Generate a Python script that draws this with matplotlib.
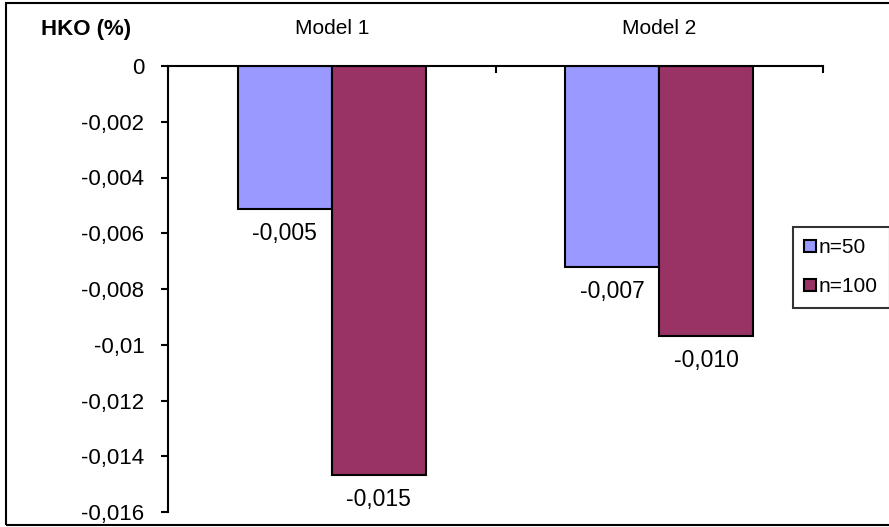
import matplotlib.pyplot as plt
from matplotlib.patches import Rectangle
import numpy as np

plt.rcParams['font.family'] = ['Liberation Sans', 'DejaVu Sans']

# data
models = ['Model 1', 'Model 2']
series = ['n=50', 'n=100']
n50 = [-0.00513, -0.00721]
n100 = [-0.01467, -0.00969]
bar_labels_50 = ['-0,005', '-0,007']
bar_labels_100 = ['-0,015', '-0,010']
yticks = [0, -0.002, -0.004, -0.006, -0.008, -0.01, -0.012, -0.014, -0.016]
ytick_labels = ['0', '-0,002', '-0,004', '-0,006', '-0,008', '-0,01', '-0,012', '-0,014', '-0,016']
colors = ['#9999FF', '#993366']

W, H = 889, 527
fig = plt.figure(figsize=(W/100, H/100), dpi=100)
ax = fig.add_axes([168/W, 1-512/H, (823-168)/W, (512-66)/H])

x = np.arange(len(models))
w = 0.2875
b1 = ax.bar(x - w/2, n50, w, color=colors[0], edgecolor='black', linewidth=1.5, label=series[0])
b2 = ax.bar(x + w/2, n100, w, color=colors[1], edgecolor='black', linewidth=1.5, label=series[1])

for bars, labs in ((b1, bar_labels_50), (b2, bar_labels_100)):
    for b, lab in zip(bars, labs):
        ax.annotate(lab, (b.get_x() + b.get_width()/2, b.get_height()),
                    xytext=(0, -13), textcoords='offset pixels',
                    ha='center', va='top', fontsize=16.5)

ax.set_xlim(-0.5, 1.5)
ax.set_ylim(-0.016, 0)
ax.set_yticks(yticks)
ax.set_yticklabels(ytick_labels, fontsize=16)
ax.tick_params(axis='y', direction='out', length=5, width=1.5, pad=12)

ax.xaxis.tick_top()
ax.set_xticks([-0.5, 0.5, 1.5])
ax.set_xticklabels([])
ax.set_xticks(x, minor=True)
ax.set_xticklabels(models, minor=True, fontsize=15)
ax.tick_params(axis='x', which='major', direction='in', length=5, width=1.5)
ax.tick_params(axis='x', which='minor', length=0, pad=20)

for s in ('right', 'bottom'):
    ax.spines[s].set_visible(False)
for s in ('left', 'top'):
    ax.spines[s].set_linewidth(1.5)

fig.text(86/W, 1-30/H, 'HKO (%)', fontsize=16, fontweight='bold', ha='center', va='center')

leg = ax.legend(loc='upper left', bbox_to_anchor=(793/W, 1-227/H), bbox_transform=fig.transFigure,
                fontsize=15, frameon=True, fancybox=False, edgecolor='black',
                handlelength=0.55, handleheight=0.55, handletextpad=0.15,
                borderpad=0.55, labelspacing=0.95, borderaxespad=0)
leg.get_frame().set_linewidth(1.5)

fig.patches.append(Rectangle((6/W, 1-525/H), 900/W, 522/H, transform=fig.transFigure,
                             fill=False, edgecolor='black', linewidth=1.5))

fig.savefig('out.png', dpi=100)
